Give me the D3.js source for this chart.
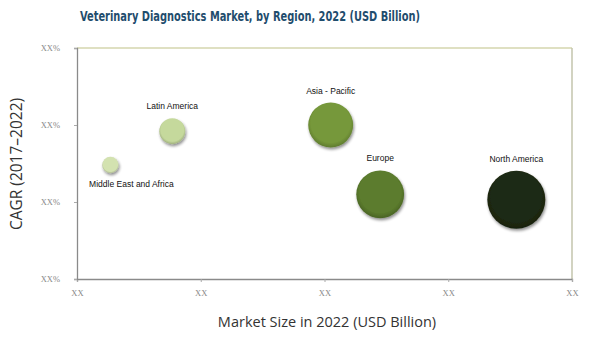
<!DOCTYPE html>
<html><head><meta charset="utf-8">
<script src="https://cdn.jsdelivr.net/npm/d3@7"></script>
<style>body{margin:0;background:#fff}</style>
</head><body>
<svg id="c" width="589" height="340"></svg>
<script>
const regions = ["Middle East and Africa","Latin America","Asia - Pacific","Europe","North America"];
const marketSize = [0.27, 0.77, 2.05, 2.45, 3.55];
const cagr = [1.48, 1.92, 2.0, 1.1, 1.03];
const bubbleSize = [0.8, 2.0, 6.0, 6.8, 10.0];
const colors = ["#d3e2b0","#c5d99c","#76983a","#5b7b2d","#1e2912"];
const xTicks = [0,1,2,3,4];
const yTicks = [0,1,2,3];
const xTickLabel = "XX";
const yTickLabel = "XX%";
const labelPos = ["below","above","above","above","above"];

const svg = d3.select("#c");
const m = {l:77, t:48, r:572, b:279};
const x = d3.scaleLinear().domain([0,4]).range([m.l, m.r]);
const y = d3.scaleLinear().domain([0,3]).range([m.b, m.t]);
const r = d3.scaleSqrt().domain([0,10]).range([0,29]);

const defs = svg.append("defs");
const f = defs.append("filter").attr("id","sh").attr("x","-40%").attr("y","-40%").attr("width","180%").attr("height","180%");
f.append("feGaussianBlur").attr("in","SourceAlpha").attr("stdDeviation",1.6).attr("result","b");
f.append("feOffset").attr("in","b").attr("dx",0.5).attr("dy",1.5).attr("result","o");
f.append("feComponentTransfer").attr("in","o").attr("result","o2").append("feFuncA").attr("type","linear").attr("slope",0.45);
const fm = f.append("feMerge"); fm.append("feMergeNode").attr("in","o2"); fm.append("feMergeNode").attr("in","SourceGraphic");
colors.forEach((c,i)=>{
  const g = defs.append("radialGradient").attr("id","g"+i).attr("cx","50%").attr("cy","45%").attr("r","55%");
  g.append("stop").attr("offset","0%").attr("stop-color",c);
  g.append("stop").attr("offset","80%").attr("stop-color",c);
  g.append("stop").attr("offset","100%").attr("stop-color",d3.color(c).darker(0.6));
});

// title
svg.append("text").attr("x",250).attr("y",21).attr("text-anchor","middle")
  .attr("font-family","'DejaVu Sans Condensed','DejaVu Sans',sans-serif").attr("font-weight","bold")
  .attr("font-size",14).attr("fill","#1f4d6d").attr("textLength",340).attr("lengthAdjust","spacingAndGlyphs")
  .text("Veterinary Diagnostics Market, by Region, 2022 (USD Billion)");

// frame top/right
svg.append("line").attr("x1",m.l).attr("x2",m.r).attr("y1",m.t).attr("y2",m.t).attr("stroke","#d4d6ae").attr("stroke-width",1.5);
svg.append("line").attr("x1",m.r).attr("x2",m.r).attr("y1",m.t).attr("y2",m.b).attr("stroke","#c3c5ad").attr("stroke-width",1.5);

// axes
const xa = svg.append("g").attr("transform",`translate(0,${m.b})`)
  .call(d3.axisBottom(x).tickValues(xTicks).tickFormat(()=>xTickLabel).tickSize(3).tickPadding(8));
const ya = svg.append("g").attr("transform",`translate(${m.l},0)`)
  .call(d3.axisLeft(y).tickValues(yTicks).tickFormat(()=>yTickLabel).tickSize(3).tickPadding(14));
[xa,ya].forEach(a=>{
  a.select(".domain").attr("stroke","#8a8a8a").attr("stroke-width",1.3);
  a.selectAll(".tick line").attr("stroke","#aaa");
  a.selectAll(".tick text").attr("fill","#888").attr("font-family","'Liberation Serif',serif").attr("font-size",8.5);
});

// bubbles
const data = regions.map((n,i)=>({n, x:marketSize[i], y:cagr[i], s:bubbleSize[i], i}));
svg.append("g").selectAll("circle").data(data).join("circle")
  .attr("cx",d=>x(d.x)).attr("cy",d=>y(d.y)).attr("r",d=>r(d.s))
  .attr("fill",d=>`url(#g${d.i})`).attr("filter","url(#sh)");
svg.append("g").selectAll("text").data(data).join("text")
  .attr("x",d=>x(d.x)+(labelPos[d.i]==="below"?21:0))
  .attr("y",d=>labelPos[d.i]==="below"? y(d.y)+r(d.s)+14 : y(d.y)-r(d.s)-9)
  .attr("text-anchor","middle").attr("font-family","'Liberation Sans',Arial,sans-serif")
  .attr("font-size",8.5).attr("fill","#111").text(d=>d.n);

// axis titles
svg.append("text").attr("x",327).attr("y",327).attr("text-anchor","middle")
  .attr("font-family","'Open Sans','DejaVu Sans',sans-serif").attr("font-size",14.5).attr("fill","#333")
  .text("Market Size in 2022 (USD Billion)");
svg.append("text").attr("transform","translate(22,164) rotate(-90)").attr("text-anchor","middle")
  .attr("font-family","'Open Sans','DejaVu Sans',sans-serif").attr("font-size",15.5).attr("fill","#333")
  .text("CAGR (2017–2022)");
</script>
</body></html>
